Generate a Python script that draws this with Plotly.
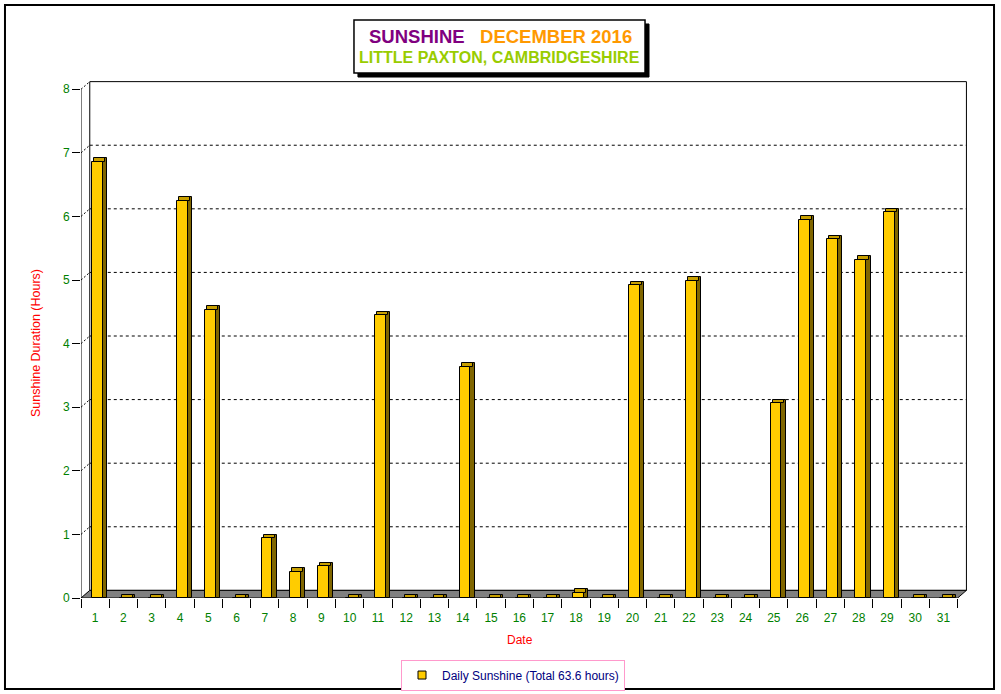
import plotly.graph_objects as go

# ---------------- data ----------------
dates = list(range(1, 32))
date_labels = [str(d) for d in dates]
sunshine = [6.86, 0.0, 0.0, 6.25, 4.53, 0.0, 0.94, 0.41, 0.50, 0.0,
            4.45, 0.0, 0.0, 3.64, 0.0, 0.0, 0.0, 0.08, 0.0, 4.92,
            0.0, 4.99, 0.0, 0.0, 3.06, 5.95, 5.64, 5.32, 6.07, 0.0, 0.0]
y_ticks = [0, 1, 2, 3, 4, 5, 6, 7, 8]
series_name = "Daily Sunshine (Total 63.6 hours)"

# ---------------- styling constants ----------------
FONT = "Arial, Liberation Sans, sans-serif"
FRONT = "#FFCC00"
TOP = "#C8A000"
SIDE = "#806600"
GREEN = "#008000"
X0, X1 = 0.5, 31.83          # x range (category units)
Y0, Y1 = 0.0, 8.13           # y range
BX, BY = 0.31, 0.12          # 3D depth offset of back wall
BAR_OFF, BAR_W = -0.113, 0.382
DX_SIDE, DX_TOP, DY = 0.156, 0.078, 0.055

fig = go.Figure()

# side (dark) face
fig.add_trace(go.Bar(
    x=dates, y=[v + DY for v in sunshine], base=0,
    offset=BAR_OFF + DX_SIDE, width=BAR_W,
    marker=dict(color=SIDE, line=dict(color="black", width=1)),
    showlegend=False, hoverinfo="skip"))
# top face
fig.add_trace(go.Bar(
    x=dates, y=[DY] * len(dates), base=sunshine,
    offset=BAR_OFF + DX_TOP, width=BAR_W,
    marker=dict(color=TOP, line=dict(color="black", width=1)),
    showlegend=False, hoverinfo="skip"))
# front face
fig.add_trace(go.Bar(
    x=dates, y=sunshine, base=0,
    offset=BAR_OFF, width=BAR_W,
    marker=dict(color=FRONT, line=dict(color="black", width=1)),
    name=series_name, showlegend=False))
# legend entry
fig.add_trace(go.Scatter(
    x=[None], y=[None], mode="markers", name=series_name,
    marker=dict(symbol="square", size=8, color=FRONT,
                line=dict(color="black", width=1)),
    showlegend=True))

shapes = []
# back wall
shapes.append(dict(type="rect", xref="x", yref="y", layer="below",
                   x0=X0 + BX, x1=31.5 + BX, y0=BY, y1=8 + BY,
                   line=dict(color="black", width=1), fillcolor="white"))
# gridlines on back wall
for v in y_ticks[1:-1]:
    shapes.append(dict(type="line", xref="x", yref="y", layer="below",
                       x0=X0 + BX, x1=31.5 + BX, y0=v + BY, y1=v + BY,
                       line=dict(color="black", width=1, dash="3px,3px")))
# left wall diagonals
for v in y_ticks[1:]:
    shapes.append(dict(type="line", xref="x", yref="y", layer="below",
                       x0=X0, x1=X0 + BX, y0=v, y1=v + BY,
                       line=dict(color="black", width=1, dash="2px,2px")))
# floor
shapes.append(dict(type="path", xref="x", yref="y", layer="below",
                   path=f"M {X0},0 L 31.5,0 L {31.5 + BX},{BY} L {X0 + BX},{BY} Z",
                   fillcolor="#808080", line=dict(color="black", width=1)))
# front y axis line
shapes.append(dict(type="line", xref="x", yref="y", x0=X0, x1=X0, y0=0, y1=8,
                   line=dict(color="black", width=1)))

# outer frame
shapes.append(dict(type="rect", xref="paper", yref="paper",
                   x0=-0.0858, x1=1.0305, y0=-0.176, y1=1.147,
                   line=dict(color="black", width=2), fillcolor="rgba(0,0,0,0)"))
# title shadow + box
shapes.append(dict(type="rect", xref="paper", yref="paper",
                   x0=0.3126, x1=0.6411, y0=1.0077, y1=1.1103,
                   line=dict(color="black", width=1), fillcolor="black"))
shapes.append(dict(type="rect", xref="paper", yref="paper",
                   x0=0.3081, x1=0.6366, y0=1.0155, y1=1.118,
                   line=dict(color="black", width=1.5), fillcolor="white"))

annotations = [
    dict(xref="paper", yref="paper", x=0.474, y=1.087, showarrow=False,
         xanchor="center", yanchor="middle",
         text="<b><span style='color:#800080'>SUNSHINE</span>\u00a0\u00a0\u00a0"
              "<span style='color:#FF9900'>DECEMBER 2016</span></b>",
         font=dict(family=FONT, size=18.5)),
    dict(xref="paper", yref="paper", x=0.4718, y=1.0455, showarrow=False,
         xanchor="center", yanchor="middle",
         text="<b>LITTLE PAXTON, CAMBRIDGESHIRE</b>",
         font=dict(family=FONT, size=16, color="#99CC00")),
    dict(xref="paper", yref="paper", x=-0.0508, y=0.4932, showarrow=False,
         textangle=-90, xanchor="center", yanchor="middle",
         text="Sunshine Duration (Hours)",
         font=dict(family=FONT, size=12.5, color="#FF0000")),
    dict(xref="paper", yref="paper", x=0.4955, y=-0.0812, showarrow=False,
         xanchor="center", yanchor="middle", text="Date",
         font=dict(family=FONT, size=12, color="#FF0000")),
]

fig.update_layout(
    width=1001, height=694,
    margin=dict(l=81, r=34, t=81, b=96, autoexpand=False),
    paper_bgcolor="white", plot_bgcolor="rgba(0,0,0,0)",
    barmode="overlay", bargap=0,
    font=dict(family=FONT, size=12),
    shapes=shapes, annotations=annotations,
    showlegend=True,
    legend=dict(x=0.4876, y=-0.149, xanchor="center", yanchor="middle",
                bordercolor="#FF99CC", borderwidth=1, bgcolor="white",
                font=dict(family=FONT, size=12, color="#000080")),
    xaxis=dict(range=[X0, X1], tickmode="array",
               tickvals=[d - 0.5 for d in dates] + [31.5],
               showticklabels=False, ticks="outside", ticklen=9,
               tickcolor="black", showgrid=False, zeroline=False,
               showline=False, fixedrange=True),
    xaxis2=dict(range=[X0, X1], overlaying="x", anchor="y", side="bottom",
                tickmode="array", tickvals=dates, ticktext=date_labels,
                ticks="outside", ticklen=9, tickcolor="rgba(0,0,0,0)",
                tickfont=dict(family=FONT, size=12, color=GREEN),
                showgrid=False, zeroline=False, showline=False),
    yaxis=dict(range=[Y0, Y1], tickmode="array", tickvals=y_ticks,
               ticks="outside", ticklen=8, tickcolor="black",
               tickfont=dict(family=FONT, size=12, color=GREEN),
               showgrid=False, zeroline=False, showline=False),
)
# attach a trivial invisible trace to xaxis2 so its labels render
fig.add_trace(go.Scatter(x=[None], y=[None], xaxis="x2", yaxis="y",
                         showlegend=False, hoverinfo="skip"))

fig.write_html("out.html",
               config={"displayModeBar": False},
               post_script="document.body.style.margin='0';"
                           "document.body.style.overflow='hidden';")
